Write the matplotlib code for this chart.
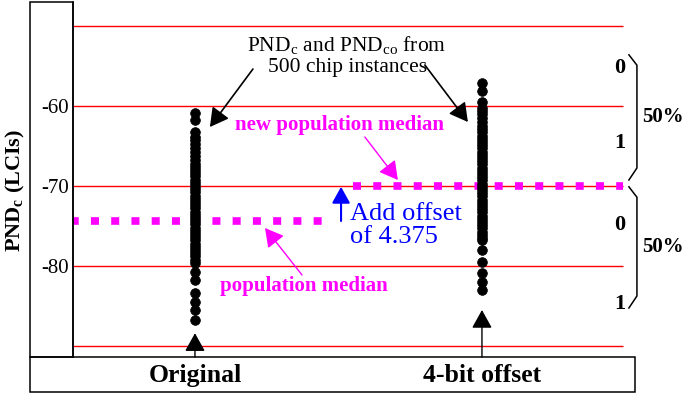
import matplotlib.pyplot as plt
from matplotlib.patches import Rectangle

plt.rcParams['font.family'] = ['Liberation Serif', 'DejaVu Serif']
plt.rcParams['mathtext.fontset'] = 'custom'
plt.rcParams['mathtext.rm'] = 'Liberation Serif'
plt.rcParams['mathtext.bf'] = 'Liberation Serif:bold'

# PND values of the chip population, before and after the 4-bit offset
categories = ['Original', '4-bit offset']
orig_pnd = [-60.9, -61.75, -63.25, -63.9, -64.3, -64.8, -65.3, -65.8, -66.3, -66.75,
            -67.2, -67.6, -68.0, -68.4, -68.8, -69.2, -69.6, -70.0, -70.4, -70.8,
            -71.2, -71.6, -72.0, -72.4, -72.8, -73.2, -73.6, -74.0, -74.4, -74.8,
            -75.2, -75.6, -76.0, -76.4, -76.8, -77.2, -77.6, -78.0, -78.4, -78.8,
            -79.2, -79.6, -80.75, -81.75, -83.4, -84.5, -85.5, -86.75]
offset_pnd = [-57.1, -58.1, -59.5, -60.2, -60.6, -61.0, -61.5, -62.0, -62.5, -62.9,
              -63.3, -63.7, -64.1, -64.5, -64.9, -65.3, -65.7, -66.1, -66.5, -66.9,
              -67.3, -67.7, -68.1, -68.5, -68.9, -69.3, -69.7, -70.1, -70.5, -70.9,
              -71.3, -71.7, -72.1, -72.5, -72.9, -73.3, -73.7, -74.1, -74.5, -74.9,
              -75.3, -75.7, -76.1, -76.5, -76.8, -78.0, -79.5, -80.9, -82.0, -83.0]
pop_median = -74.375
offset = 4.375
new_median = pop_median + offset
grid_levels = [-50, -60, -70, -80, -90]
tick_levels = [-60, -70, -80]
arrow_tips = [-88.4, -85.5]

fig = plt.figure(figsize=(6.84, 3.99), dpi=100)
W, H = 684, 399
ax = fig.add_axes([73 / W, (H - 357) / H, (W - 73) / W, 355 / H])
ax.set_xlim(-0.425, 1.704)
ax.set_ylim(-91.375, -47.0)
for s in ['top', 'right', 'bottom']:
    ax.spines[s].set_visible(False)
ax.spines['left'].set_linewidth(1.1)

# red reference lines
ax.hlines(grid_levels, -0.425, 1.491, colors='red', lw=1.0, zorder=1)
ax.set_yticks(tick_levels, [str(t) for t in tick_levels], fontsize=15)
ax.tick_params(axis='y', length=0, pad=3)
ax.set_xticks([0, 1], categories, fontsize=18.5, fontweight='bold')
ax.tick_params(axis='x', length=0, pad=5)

# chip instances
ax.plot([0] * len(orig_pnd), orig_pnd, 'o', color='k', ms=7, mew=0.5, zorder=3)
ax.plot([1] * len(offset_pnd), offset_pnd, 'o', color='k', ms=7, mew=0.5, zorder=3)

# medians
ax.plot([-0.425, 0.47], [pop_median] * 2, color='#ff00ff', lw=5.5,
        linestyle=(0.3, (1.05, 1.6)), zorder=2)
ax.plot([0.55, 1.491], [new_median] * 2, color='#ff00ff', lw=5.5,
        linestyle=(0, (1.05, 1.6)), zorder=2)

head = '-|>,head_length=0.45,head_width=0.25'
# arrows from category boxes up to the columns
for i, tip in enumerate(arrow_tips):
    ax.annotate('', xy=(i, tip), xytext=(i, -91.375),
                arrowprops=dict(arrowstyle=head, color='k', lw=1.0,
                                mutation_scale=25, shrinkA=0, shrinkB=0))

ax.text(0.53, -53.7, r'PND$_\mathrm{c}$ and PND$_\mathrm{co}$ from' + '\n500 chip instances',
        ha='center', va='center', fontsize=15.5, linespacing=1.1)
ax.annotate('', xy=(0.052, -62.625), xytext=(0.202, -55.375),
            arrowprops=dict(arrowstyle=head, color='k', lw=1.2,
                            mutation_scale=25, shrinkA=0, shrinkB=0))
ax.annotate('', xy=(0.951, -62.0), xytext=(0.801, -54.875),
            arrowprops=dict(arrowstyle=head, color='k', lw=1.2,
                            mutation_scale=25, shrinkA=0, shrinkB=0))

ax.text(0.502, -62.375, 'new population median', color='#ff00ff', fontsize=15,
        fontweight='bold', ha='center', va='center')
ax.annotate('', xy=(0.707, -69.25), xytext=(0.592, -63.875),
            arrowprops=dict(arrowstyle=head, color='#ff00ff', lw=1.0,
                            mutation_scale=25, shrinkA=0, shrinkB=0))
ax.text(0.38, -82.5, 'population median', color='#ff00ff', fontsize=15,
        fontweight='bold', ha='center', va='center')
ax.annotate('', xy=(0.244, -75.25), xytext=(0.373, -81.125),
            arrowprops=dict(arrowstyle=head, color='#ff00ff', lw=1.0,
                            mutation_scale=25, shrinkA=0, shrinkB=0))

# offset arrow between the two medians
ax.annotate('', xy=(0.509, new_median - 0.1), xytext=(0.509, pop_median),
            arrowprops=dict(arrowstyle=head, color='#0000ff', lw=1.5,
                            mutation_scale=22, shrinkA=0, shrinkB=0))
ax.text(0.54, -74.9, 'Add offset\nof %g' % offset, color='#0000ff', fontsize=19,
        ha='left', va='center', linespacing=1.05)

# bit values and braces on the right
for y, b in zip([-55.25, -64.6, -74.9, -84.75], ['0', '1', '0', '1']):
    ax.text(1.481, y, b, fontsize=16, fontweight='bold', ha='center', va='center')
for y0, y1 in [(-53.6, -69.25), (-70.1, -85.25)]:
    ax.plot([1.512, 1.540, 1.540, 1.512], [y0, y0 - 1.3, y1 + 1.5, y1],
            color='k', lw=1.1, solid_joinstyle='miter')
    ax.text(1.557, (y0 + y1) / 2, '50%', fontsize=15, fontweight='bold',
            ha='left', va='center')

# frames round the tick labels and category names
fig.add_artist(Rectangle((30 / W, (H - 357) / H), 43 / W, 355 / H, fill=False,
                         lw=1.1, ec='k', transform=fig.transFigure))
fig.add_artist(Rectangle((30 / W, (H - 392) / H), 605 / W, 35 / H, fill=False,
                         lw=1.1, ec='k', transform=fig.transFigure))
fig.text(15 / W, 1 - 190 / H, r'PND$_\mathbf{c}$ (LCIs)', rotation=90, fontsize=16,
         fontweight='bold', ha='center', va='center')

fig.savefig('out.png', dpi=100)
